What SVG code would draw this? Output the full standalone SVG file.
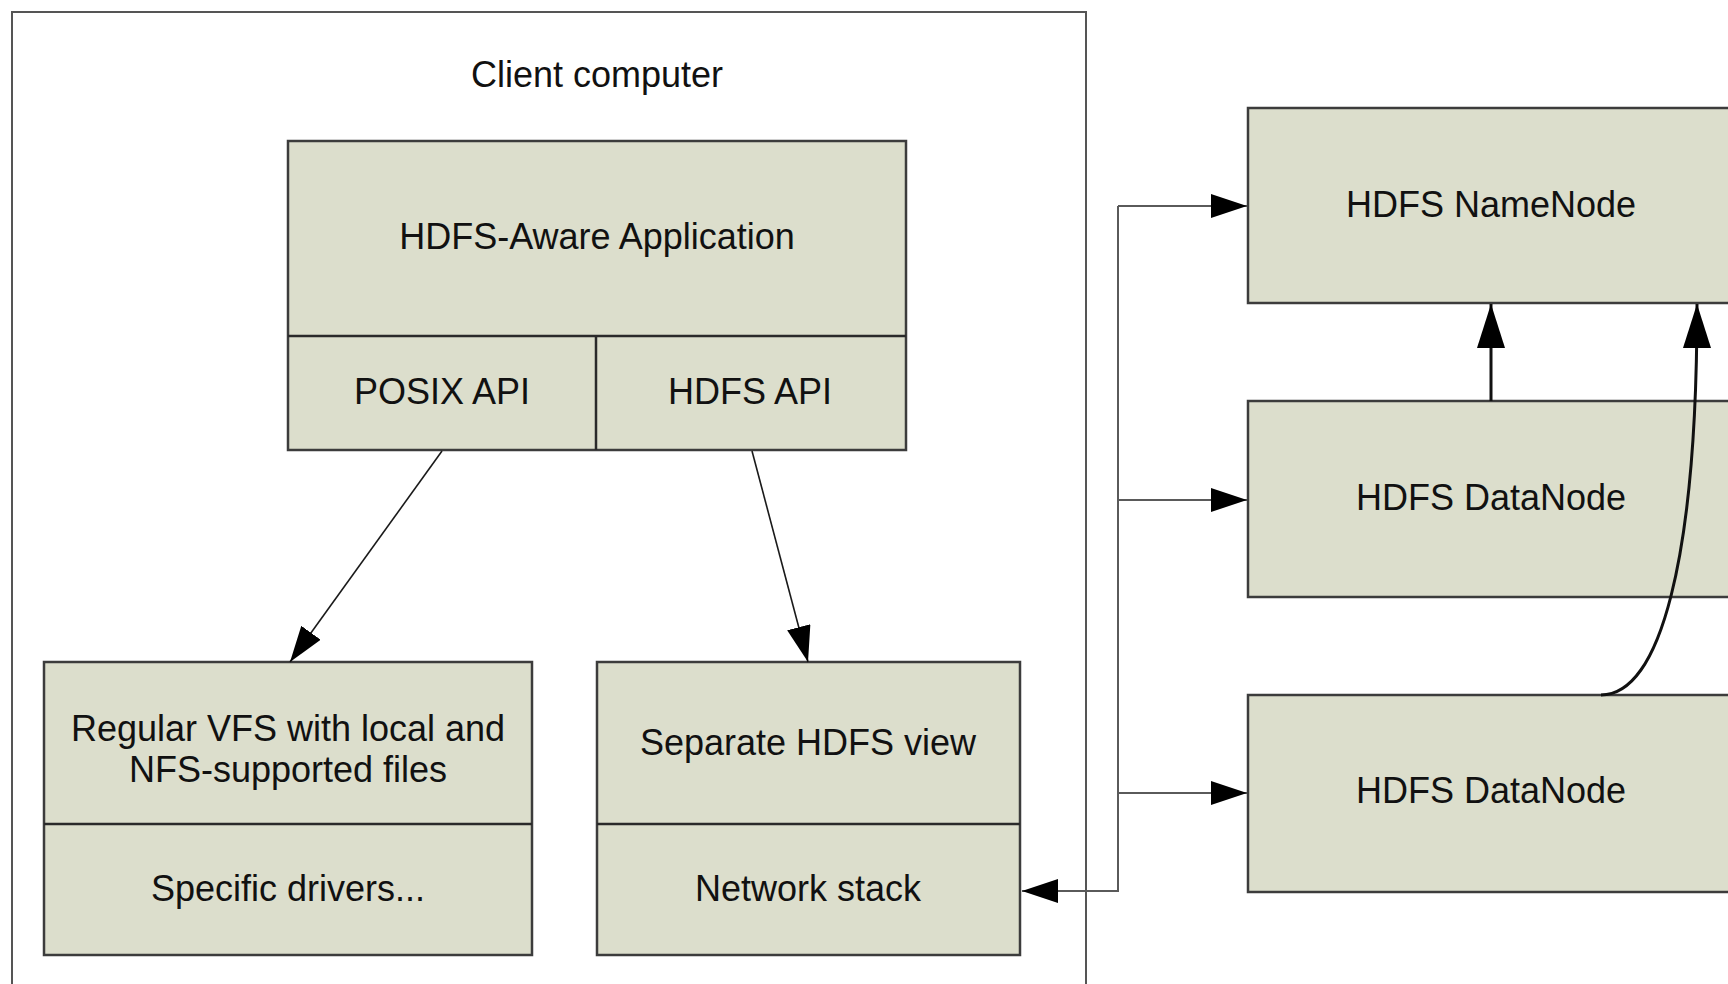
<svg xmlns="http://www.w3.org/2000/svg" width="1728" height="984" viewBox="0 0 1728 984">
<style>
.box{fill:#dcdecc;stroke:#3c3c3c;stroke-width:2.5}
.div{fill:none;stroke:#2a2a2a;stroke-width:2.5}
.frame{fill:#fff;stroke:#555;stroke-width:2}
.t{font-family:"Liberation Sans",Arial,sans-serif;font-size:36px;fill:#111;text-anchor:middle}
.bus{fill:none;stroke:#5a5a5a;stroke-width:2}
.thin{fill:none;stroke:#1a1a1a;stroke-width:1.6}
.thick{fill:none;stroke:#111;stroke-width:3}
</style>
<defs>
<marker id="arr" markerUnits="userSpaceOnUse" markerWidth="36" markerHeight="24" refX="36" refY="12" orient="auto" viewBox="0 0 36 24">
<path d="M0,0 L36,12 L0,24 z" fill="#000"/>
</marker>
<marker id="arrBig" markerUnits="userSpaceOnUse" markerWidth="44" markerHeight="28" refX="44" refY="14" orient="auto" viewBox="0 0 44 28">
<path d="M0,0 L44,14 L0,28 z" fill="#000"/>
</marker>
</defs>
<rect width="1728" height="984" fill="#fff"/>
<g id="client-computer">
<rect class="frame" x="12" y="12" width="1074" height="1000"/>
<text class="t" x="597" y="87">Client computer</text>
</g>
<g id="hdfs-aware-application">
<rect class="box" x="288" y="141" width="618" height="309"/>
<line class="div" x1="288" y1="336" x2="906" y2="336"/>
<text class="t" x="597" y="249">HDFS-Aware Application</text>
</g>
<g id="posix-api">
<line class="div" x1="596" y1="336" x2="596" y2="450"/>
<text class="t" x="442" y="404">POSIX API</text>
</g>
<g id="hdfs-api">
<text class="t" x="750" y="404">HDFS API</text>
</g>
<g id="regular-vfs">
<rect class="box" x="44" y="662" width="488" height="293"/>
<line class="div" x1="44" y1="824" x2="532" y2="824"/>
<text class="t" x="288" y="741">Regular VFS with local and</text>
<text class="t" x="288" y="782">NFS-supported files</text>
</g>
<g id="specific-drivers">
<text class="t" x="288" y="901">Specific drivers...</text>
</g>
<g id="separate-hdfs-view">
<rect class="box" x="597" y="662" width="423" height="293"/>
<line class="div" x1="597" y1="824" x2="1020" y2="824"/>
<text class="t" x="808" y="755">Separate HDFS view</text>
</g>
<g id="network-stack">
<text class="t" x="808" y="901">Network stack</text>
</g>
<g id="namenode">
<rect class="box" x="1248" y="108" width="520" height="195"/>
<text class="t" x="1491" y="217">HDFS NameNode</text>
</g>
<g id="datanode-1">
<rect class="box" x="1248" y="401" width="520" height="196"/>
<text class="t" x="1491" y="510">HDFS DataNode</text>
</g>
<g id="datanode-2">
<rect class="box" x="1248" y="695" width="520" height="197"/>
<text class="t" x="1491" y="803">HDFS DataNode</text>
</g>
<g id="connectors">
<line class="thin" x1="442" y1="451" x2="290" y2="662" marker-end="url(#arr)"/>
<line class="thin" x1="752" y1="451" x2="808" y2="662" marker-end="url(#arr)"/>
<polyline class="bus" points="1118,206 1118,891 1022,891" marker-end="url(#arr)"/>
<line class="bus" x1="1118" y1="206" x2="1247" y2="206" marker-end="url(#arr)"/>
<line class="bus" x1="1118" y1="500" x2="1247" y2="500" marker-end="url(#arr)"/>
<line class="bus" x1="1118" y1="793" x2="1247" y2="793" marker-end="url(#arr)"/>
<line class="thick" x1="1491" y1="401" x2="1491" y2="304" marker-end="url(#arrBig)"/>
<path class="thick" d="M1601,695 C1660,695 1697,560 1697,304" marker-end="url(#arrBig)" stroke-width="2.5"/>
</g>
</svg>
